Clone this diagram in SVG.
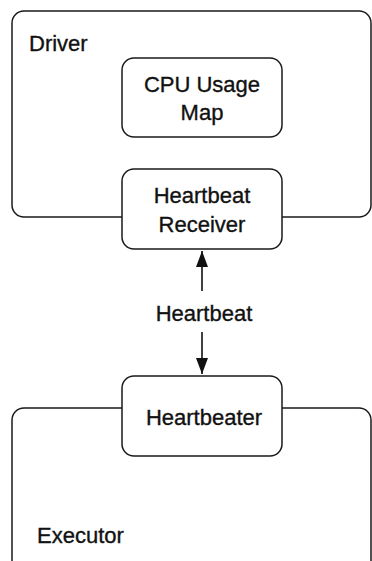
<svg xmlns="http://www.w3.org/2000/svg" width="372" height="561" viewBox="0 0 372 561">
<style>
.box{fill:#fff;stroke:#1a1a1a;stroke-width:1.5}
.cont{fill:none;stroke:#1a1a1a;stroke-width:1.5}
text{font-family:"Liberation Sans",Arial,sans-serif;font-size:22px;fill:#111;stroke:#111;stroke-width:0.35}
.c{text-anchor:middle}
.edge{stroke:#111;stroke-width:1.6;fill:none}
</style>
<defs>
<marker id="ah" viewBox="0 0 16 12" refX="16" refY="6" markerWidth="16" markerHeight="12" markerUnits="userSpaceOnUse" orient="auto-start-reverse">
<path d="M0,0 L16,6 L0,12 z" fill="#111"/>
</marker>
</defs>
<g id="driver">
<rect class="cont" x="12" y="11" width="359" height="206" rx="12"/>
<text x="29" y="51">Driver</text>
</g>
<g id="executor">
<rect class="cont" x="12" y="408" width="359" height="200" rx="12"/>
<text x="37" y="543">Executor</text>
</g>
<g id="cpu-usage-map">
<rect class="box" x="122" y="58" width="160" height="79" rx="12"/>
<text class="c" x="202" y="92">CPU Usage</text>
<text class="c" x="202" y="120">Map</text>
</g>
<g id="heartbeat-receiver">
<rect class="box" x="122" y="169" width="160" height="80" rx="12"/>
<text class="c" x="202" y="203">Heartbeat</text>
<text class="c" x="202" y="232">Receiver</text>
</g>
<g id="heartbeater">
<rect class="box" x="122" y="376" width="160" height="80" rx="12"/>
<text class="c" x="204" y="425">Heartbeater</text>
</g>
<g id="connectors">
<line class="edge" x1="202" y1="291" x2="202" y2="251" marker-end="url(#ah)"/>
<line class="edge" x1="202" y1="332" x2="202" y2="374" marker-end="url(#ah)"/>
<text class="c" x="204" y="321">Heartbeat</text>
</g>
</svg>
